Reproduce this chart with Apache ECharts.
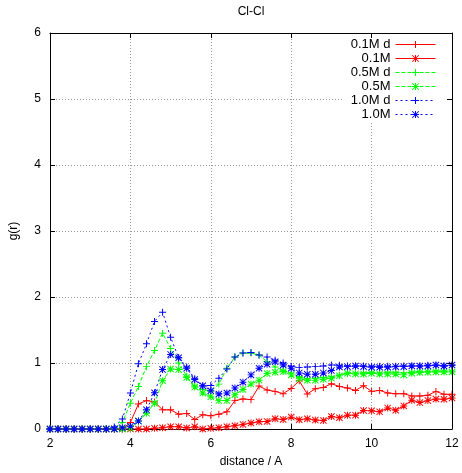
<!DOCTYPE html>
<html>
<head>
<meta charset="utf-8">
<title>Cl-Cl</title>
<script src="https://cdn.jsdelivr.net/npm/echarts@6/dist/echarts.min.js"></script>
<style>
  html, body { margin: 0; padding: 0; background: #fff; }
  #chart { width: 462px; height: 473px; }
</style>
</head>
<body>
<div id="chart"></div>
<script>
// Radial distribution function g(r) for Cl-Cl pairs at three concentrations.
var distance = [
  2.0, 2.2, 2.4, 2.6, 2.8, 3.0, 3.2, 3.4, 3.6, 3.8,
  4.0, 4.2, 4.4, 4.6, 4.8, 5.0, 5.2, 5.4, 5.6, 5.8,
  6.0, 6.2, 6.4, 6.6, 6.8, 7.0, 7.2, 7.4, 7.6, 7.8,
  8.0, 8.2, 8.4, 8.6, 8.8, 9.0, 9.2, 9.4, 9.6, 9.8,
  10.0, 10.2, 10.4, 10.6, 10.8, 11.0, 11.2, 11.4, 11.6, 11.8, 12.0
];

var g01d = [
  0, 0, 0, 0, 0, 0, 0, 0, 0, 0,
  0.10, 0.38, 0.43, 0.41, 0.29, 0.29, 0.225, 0.235, 0.145, 0.215,
  0.20, 0.225, 0.26, 0.43, 0.455, 0.445, 0.65, 0.59, 0.57, 0.535,
  0.615, 0.73, 0.53, 0.61, 0.63, 0.685, 0.645, 0.62, 0.585, 0.655,
  0.57, 0.585, 0.545, 0.535, 0.535, 0.50, 0.50, 0.51, 0.57, 0.525, 0.525
];

var g01 = [
  0, 0, 0, 0, 0, 0, 0, 0, 0, 0,
  0, 0, 0.0, 0.01, 0.02, 0.035, 0.035, 0.015, 0.035, 0.0,
  0.01, 0.02, 0.035, 0.05, 0.07, 0.09, 0.11, 0.115, 0.155, 0.145,
  0.18, 0.14, 0.155, 0.135, 0.13, 0.19, 0.17, 0.21, 0.21, 0.28,
  0.275, 0.26, 0.32, 0.285, 0.35, 0.435, 0.40, 0.43, 0.455, 0.45, 0.47
];

var g05d = [
  0, 0, 0, 0, 0, 0, 0, 0, 0.01, 0.10,
  0.39, 0.645, 0.945, 1.19, 1.45, 1.22, 1.00, 0.80, 0.65, 0.60,
  0.57, 0.68, 0.92, 1.09, 1.15, 1.15, 1.12, 1.02, 0.94, 0.89,
  0.85, 0.79, 0.76, 0.77, 0.78, 0.79, 0.82, 0.85, 0.85, 0.85,
  0.86, 0.85, 0.86, 0.86, 0.85, 0.86, 0.87, 0.87, 0.88, 0.88, 0.88
];

var g05 = [
  0, 0, 0, 0, 0, 0, 0, 0, 0, 0,
  0.01, 0.12, 0.24, 0.39, 0.73, 0.91, 0.90, 0.78, 0.635, 0.545,
  0.49, 0.43, 0.43, 0.52, 0.60, 0.68, 0.74, 0.84, 0.86, 0.87,
  0.82, 0.76, 0.74, 0.74, 0.755, 0.77, 0.805, 0.845, 0.835, 0.835,
  0.845, 0.835, 0.835, 0.835, 0.82, 0.845, 0.855, 0.86, 0.865, 0.865, 0.865
];

var g10d = [
  0, 0, 0, 0, 0, 0, 0, 0, 0.03, 0.15,
  0.545, 0.99, 1.29, 1.63, 1.77, 1.39, 1.08, 0.94, 0.76, 0.65,
  0.66, 0.77, 0.91, 1.09, 1.15, 1.16, 1.12, 1.09, 1.04, 1.00,
  0.95, 0.93, 0.94, 0.945, 0.955, 0.97, 0.965, 0.955, 0.955, 0.955,
  0.95, 0.95, 0.95, 0.95, 0.955, 0.955, 0.955, 0.965, 0.965, 0.955, 0.965
];

var g10 = [
  0, 0, 0, 0, 0, 0, 0, 0, 0, 0.02,
  0.04, 0.12, 0.29, 0.55, 0.90, 1.13, 1.08, 0.92, 0.75, 0.655,
  0.58, 0.53, 0.545, 0.62, 0.71, 0.82, 0.92, 0.98, 1.02, 0.97,
  0.92, 0.85, 0.83, 0.83, 0.85, 0.885, 0.94, 0.945, 0.955, 0.945,
  0.935, 0.935, 0.935, 0.945, 0.945, 0.955, 0.955, 0.955, 0.97, 0.955, 0.97
];

var seriesNames = ['0.1M d', '0.1M', '0.5M d', '0.5M', '1.0M d', '1.0M'];
var xTicks = { min: 2, max: 12, step: 2 };
var yTicks = { min: 0, max: 6, step: 1 };

// gnuplot-style point types: "+" and "*" (plus overlaid with an x)
var PLUS = 'path://M4.3,0H5.7V4.3H10V5.7H5.7V10H4.3V5.7H0V4.3H4.3Z';
var STAR = 'path://M4.3,0H5.7V4.3H10V5.7H5.7V10H4.3V5.7H0V4.3H4.3Z' +
           'M0,1L1,0L10,9L9,10Z M9,0L10,1L1,10L0,9Z';

var RED = '#ff0000', GREEN = '#00ff00', BLUE = '#0000ff';
var DASHED = [4, 2], DOTTED = [2, 3];

var FONT = 'Liberation Sans';

function pairs(values) {
  return distance.map(function (d, i) { return [d, values[i]]; });
}

function curve(name, values, color, dash, symbol) {
  return {
    name: name,
    type: 'line',
    data: pairs(values),
    symbol: symbol,
    symbolSize: 7,
    showSymbol: true,
    lineStyle: { color: color, width: 1, type: dash },
    itemStyle: { color: color },
    emphasis: { disabled: true },
    animation: false
  };
}

var chart = echarts.init(document.getElementById('chart'), null, { renderer: 'canvas' });

var tickLabel = { fontFamily: FONT, fontSize: 12, color: '#000' };

chart.setOption({
  backgroundColor: '#fff',
  animation: false,
  title: {
    text: 'Cl-Cl',
    left: 251,
    top: 6,
    padding: 0,
    textAlign: 'center',
    textStyle: { fontFamily: FONT, fontSize: 12, fontWeight: 'normal', color: '#000' }
  },
  legend: {
    orient: 'vertical',
    align: 'right',
    right: 10,
    top: 34,
    padding: [4, 16, 1, 8],
    itemWidth: 40,
    itemHeight: 9,
    itemGap: 1,
    backgroundColor: '#fff',
    selectedMode: false,
    lineStyle: { width: 'inherit' },
    textStyle: { fontFamily: FONT, fontSize: 13, color: '#000' },
    data: seriesNames
  },
  grid: { left: 50, right: 10, top: 33, bottom: 40, containLabel: false },
  xAxis: [
    {
      type: 'value', position: 'bottom',
      min: xTicks.min, max: xTicks.max, interval: xTicks.step,
      name: 'distance / A', nameLocation: 'middle', nameGap: 27,
      nameTextStyle: tickLabel,
      axisLine: { onZero: false, lineStyle: { color: '#000', width: 1 } },
      axisTick: { inside: true, length: 5, lineStyle: { color: '#000' } },
      axisLabel: { margin: 9, fontFamily: FONT, fontSize: 12, color: '#000' },
      splitLine: { show: true, lineStyle: { color: '#999', width: 1, type: [1, 2] } }
    },
    {
      type: 'value', position: 'top', z: 5,
      min: xTicks.min, max: xTicks.max, interval: xTicks.step,
      axisLine: { onZero: false, lineStyle: { color: '#000', width: 1 } },
      axisTick: { inside: true, length: 5, lineStyle: { color: '#000' } },
      axisLabel: { show: false },
      splitLine: { show: false }
    }
  ],
  yAxis: [
    {
      type: 'value', position: 'left',
      min: yTicks.min, max: yTicks.max, interval: yTicks.step,
      name: 'g(r)', nameLocation: 'middle', nameGap: 30,
      nameTextStyle: tickLabel,
      axisLine: { show: true, onZero: false, lineStyle: { color: '#000', width: 1 } },
      axisTick: { show: true, inside: true, length: 5, lineStyle: { color: '#000' } },
      axisLabel: { margin: 9, fontFamily: FONT, fontSize: 12, color: '#000' },
      splitLine: { show: true, lineStyle: { color: '#999', width: 1, type: [1, 2] } }
    },
    {
      type: 'value', position: 'right', z: 5,
      min: yTicks.min, max: yTicks.max, interval: yTicks.step,
      axisLine: { show: true, onZero: false, lineStyle: { color: '#000', width: 1 } },
      axisTick: { show: true, inside: true, length: 5, lineStyle: { color: '#000' } },
      axisLabel: { show: false },
      splitLine: { show: false }
    }
  ],
  series: [
    curve(seriesNames[0], g01d, RED, 'solid', PLUS),
    curve(seriesNames[1], g01, RED, 'solid', STAR),
    curve(seriesNames[2], g05d, GREEN, DASHED, PLUS),
    curve(seriesNames[3], g05, GREEN, DASHED, STAR),
    curve(seriesNames[4], g10d, BLUE, DOTTED, PLUS),
    curve(seriesNames[5], g10, BLUE, DOTTED, STAR)
  ]
});
</script>
</body>
</html>
